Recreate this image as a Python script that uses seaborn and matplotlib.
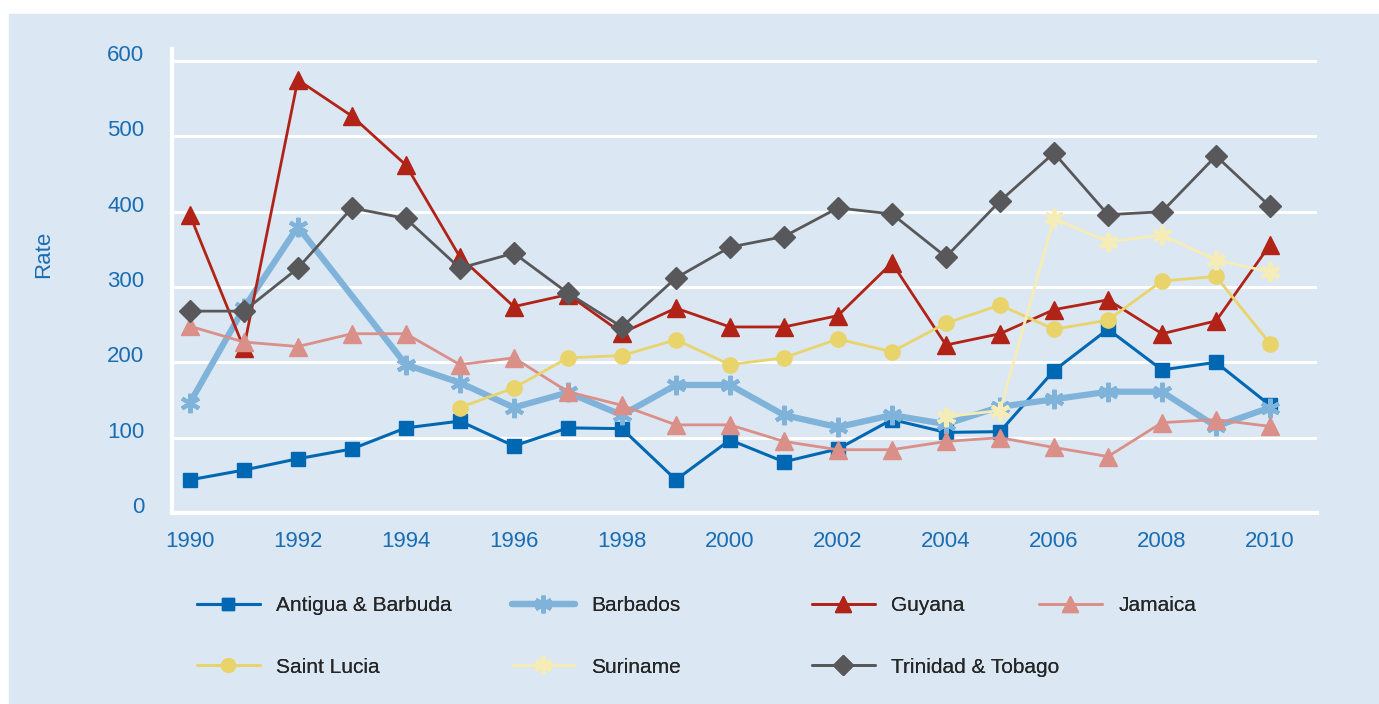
import numpy as np
import pandas as pd
import matplotlib
matplotlib.use("Agg")
import matplotlib.pyplot as plt
from matplotlib.patches import Rectangle
import seaborn as sns

# ── Data (rates) ────────────────────────────────────────────────────────────
years = list(range(1990, 2011))

antigua     = [44, 57, 72, 85, 113, 122, 89, 113, 112, 44, 97, 68, 85, 124, 107, 108, 189, 244, 190, 200, 143]
barbados    = [146, 272, 380, None, 197, 173, 140, 160, 130, 170, 170, 130, 114, 130, 118, 141, 151, 161, 161, 115, 140]
guyana      = [396, 219, 575, 527, 462, 340, 274, 290, 239, 272, 247, 247, 262, 332, 223, 238, 270, 283, 238, 255, 356]
jamaica     = [248, 227, 221, 238, 238, 197, 206, 161, 143, 117, 117, 95, 84, 84, 95, 100, 87, 75, 120, 124, 115]
saint_lucia = [None] * 5 + [140, 166, 206, 209, 230, 197, 206, 231, 214, 252, 276, 244, 256, 308, 314, 225]
suriname    = [None] * 14 + [128, 136, 391, 360, 369, 336, 320]
trinidad    = [268, 268, 325, 405, 391, 325, 345, 292, 247, 312, 353, 367, 405, 397, 340, 414, 478, 396, 400, 474, 407]

names = ["Antigua & Barbuda", "Barbados", "Guyana", "Jamaica",
         "Saint Lucia", "Suriname", "Trinidad & Tobago"]
series = [antigua, barbados, guyana, jamaica, saint_lucia, suriname, trinidad]

y_ticks = [0, 100, 200, 300, 400, 500, 600]
x_ticks = list(range(1990, 2011, 2))

# ── Styles ──────────────────────────────────────────────────────────────────
PANEL = "#dbe8f3"
TICK_BLUE = "#1a6db3"
ASTER = (6, 2, 0)
styles = {
    "Antigua & Barbuda": dict(color="#0068b3", marker="s", ms=10, lw=2.2, mew=1),
    "Barbados":          dict(color="#80b3da", marker=ASTER, ms=14, lw=4.5, mew=3),
    "Guyana":            dict(color="#b22317", marker="^", ms=13, lw=2.0, mew=1),
    "Jamaica":           dict(color="#da8f88", marker="^", ms=13, lw=2.0, mew=1),
    "Saint Lucia":       dict(color="#e8d46b", marker="o", ms=11, lw=2.0, mew=1),
    "Suriname":          dict(color="#f5ecb6", marker=ASTER, ms=14, lw=2.0, mew=3),
    "Trinidad & Tobago": dict(color="#58585a", marker="D", ms=11, lw=2.0, mew=1),
}

sns.set_style("white", {"axes.facecolor": PANEL})
plt.rcParams["font.family"] = ["Liberation Sans", "DejaVu Sans"]

fig = plt.figure(figsize=(13.79, 7.04), dpi=100)
fig.patches.append(Rectangle((9 / 1379, 0), 1, 1 - 14 / 704,
                             transform=fig.transFigure, color=PANEL, zorder=-10))
ax = fig.add_axes([172 / 1379, 1 - 513 / 704, (1317 - 172) / 1379, (513 - 49) / 704])
ax.set_facecolor(PANEL)

handles = {}
for name, vals in zip(names, series):
    s = pd.Series(vals, index=years, dtype=float).dropna()
    st = styles[name]
    sns.lineplot(x=s.index, y=s.values, ax=ax, color=st["color"],
                 marker=st["marker"], markersize=st["ms"], linewidth=st["lw"],
                 markeredgecolor=st["color"], markeredgewidth=st["mew"],
                 markerfacecolor=st["color"], legend=False)
    handles[name] = ax.lines[-1]

ax.set_xlim(1989.67, 2010.87)
ax.set_ylim(0, 616)
ax.set_xticks(x_ticks)
ax.set_yticks(y_ticks)
ax.set_xlabel("")
ax.set_ylabel("")
ax.grid(axis="y", color="white", linewidth=2.2)
ax.grid(axis="x", visible=False)
ax.set_axisbelow(True)
ax.tick_params(axis="both", length=0, labelsize=16, labelcolor=TICK_BLUE)
ax.tick_params(axis="x", pad=13)
ax.tick_params(axis="y", pad=20)
for lab in ax.get_yticklabels():
    lab.set_va("baseline")
for side in ["top", "right"]:
    ax.spines[side].set_visible(False)
ax.spines["left"].set_color("white")
ax.spines["left"].set_linewidth(3)
ax.spines["bottom"].set_color("white")
ax.spines["bottom"].set_linewidth(3)

fig.text(44 / 1379, 1 - 254 / 704, "Rate", rotation=90, ha="center", va="center",
         fontsize=16, color=TICK_BLUE)

# ── Legend: four columns laid out like the original grid ───────────────────
columns = [["Antigua & Barbuda", "Saint Lucia"], ["Barbados", "Suriname"],
           ["Guyana", "Trinidad & Tobago"], ["Jamaica"]]
col_x = [197, 512, 812, 1039]
for cx, col in zip(col_x, columns):
    leg = fig.legend([handles[n] for n in col], col, loc="upper left",
                     bbox_to_anchor=(cx / 1379, 1 - 596 / 704),
                     frameon=False, fontsize=15, borderpad=0, borderaxespad=0,
                     handlelength=3.0, handletextpad=0.8, labelspacing=2.05,
                     markerscale=0.9)
    fig.add_artist(leg)

fig.savefig("out.png", dpi=100, facecolor="white")
